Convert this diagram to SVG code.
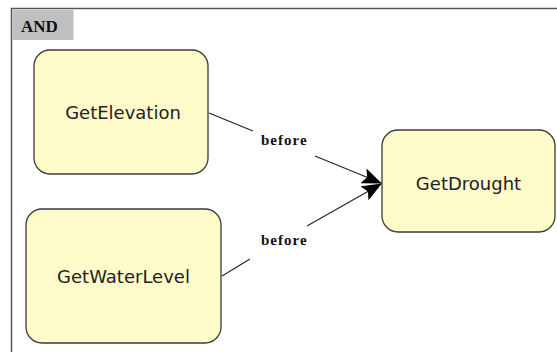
<svg xmlns="http://www.w3.org/2000/svg" width="557" height="352" viewBox="0 0 557 352">
  <style>
    .node rect { fill: #fefccb; stroke: #3a3a3a; stroke-width: 1.3; }
    .node text { font-family: "DejaVu Sans", sans-serif; font-size: 18px; fill: #222; text-anchor: middle; }
    .edge { stroke: #222; stroke-width: 1.1; fill: none; }
    .lbl { font-family: "Liberation Serif", serif; font-weight: bold; font-size: 15px; letter-spacing: 1px; fill: #111; }
  </style>
  <defs>
    <marker id="arrow" viewBox="0 0 20 16" refX="19" refY="8" markerWidth="20" markerHeight="16" markerUnits="userSpaceOnUse" orient="auto">
      <path d="M0,0 L20,8 L0,16 L4,8 Z" fill="#000"/>
    </marker>
  </defs>
  <rect width="557" height="352" fill="#fff"/>
  <!-- frame -->
  <g id="frame">
    <path d="M11.5,352 V8.5 H557" fill="none" stroke="#555" stroke-width="1.5"/>
    <rect x="12.5" y="10" width="61" height="30" fill="#c0c0c0"/>
    <text x="21" y="31.5" font-family="Liberation Serif, serif" font-weight="bold" font-size="17" fill="#111">AND</text>
  </g>
  <!-- connectors -->
  <g id="connectors">
    <path class="edge" d="M209,113 L253,131"/>
    <path class="edge" d="M315,156 L381,183" marker-end="url(#arrow)"/>
    <path class="edge" d="M222,276 L250,259"/>
    <path class="edge" d="M307,226 L381,184" marker-end="url(#arrow)"/>
    <text class="lbl" x="261" y="145">before</text>
    <text class="lbl" x="261" y="245">before</text>
  </g>
  <g id="GetElevation" class="node">
    <rect x="34" y="50" width="174" height="124" rx="16"/>
    <text x="123" y="119">GetElevation</text>
  </g>
  <g id="GetWaterLevel" class="node">
    <rect x="26" y="209" width="195" height="134" rx="16"/>
    <text x="123.5" y="283">GetWaterLevel</text>
  </g>
  <g id="GetDrought" class="node">
    <rect x="382" y="130" width="173" height="102" rx="16"/>
    <text x="468.5" y="190">GetDrought</text>
  </g>
</svg>
